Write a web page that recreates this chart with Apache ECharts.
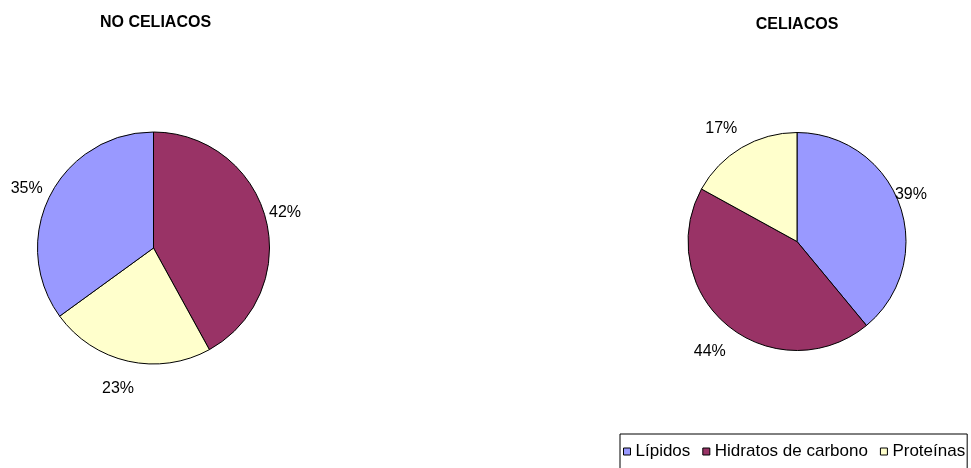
<!DOCTYPE html>
<html>
<head>
<meta charset="utf-8">
<script src="https://cdn.jsdelivr.net/npm/echarts@6/dist/echarts.min.js"></script>
<style>
  html, body { margin: 0; padding: 0; background: #fff; }
  #chart { width: 971px; height: 468px; }
</style>
</head>
<body>
<div id="chart"></div>
<script>
// Macronutrient share of the diet, non-coeliac vs coeliac group
const categories = ['Lípidos', 'Hidratos de carbono', 'Proteínas'];
const noCeliacosValues = [35, 42, 23];
const celiacosValues = [39, 44, 17];
const titles = ['NO CELIACOS', 'CELIACOS'];

// Slice order, clockwise from 12 o'clock
const noCeliacosOrder = [1, 2, 0];
const celiacosOrder = [0, 1, 2];

const colors = ['#9999FF', '#993366', '#FFFFCC'];
const FONT = '"Liberation Sans", Arial, sans-serif';

// Outside label placement per category (labelLine length / length2)
const noCeliacosLabelPos = [[14, -5], [25, -21], [28, -12]];
const celiacosLabelPos = [[28, -31], [34, -20], [22, -7]];

function buildData(values, order, labelPos) {
  return order.map(i => ({
    name: categories[i],
    value: values[i],
    itemStyle: { color: colors[i] },
    labelLine: { show: false, length: labelPos[i][0], length2: labelPos[i][1] }
  }));
}

function pieSeries(values, order, labelPos, center, radius) {
  return {
    type: 'pie',
    center: center,
    radius: radius,
    startAngle: 90,
    clockwise: true,
    avoidLabelOverlap: false,
    label: {
      show: true,
      position: 'outside',
      formatter: '{c}%',
      color: '#000',
      fontFamily: FONT,
      fontSize: 16,
      distanceToLabelLine: 0,
      overflow: 'none'
    },
    labelLine: { show: false },
    emphasis: { disabled: true },
    itemStyle: { borderColor: '#000', borderWidth: 1 },
    data: buildData(values, order, labelPos)
  };
}

const chart = echarts.init(document.getElementById('chart'), null, { renderer: 'canvas' });
chart.setOption({
  animation: false,
  backgroundColor: '#fff',
  graphic: [
    { type: 'text', x: 155.5, y: 23, style: { text: titles[0], font: 'bold 16px ' + FONT, fill: '#000', align: 'center', verticalAlign: 'middle' } },
    { type: 'text', x: 797, y: 24.5, style: { text: titles[1], font: 'bold 16px ' + FONT, fill: '#000', align: 'center', verticalAlign: 'middle' } }
  ],
  legend: {
    data: categories,
    left: 620,
    top: 434,
    width: 400,
    orient: 'horizontal',
    icon: 'rect',
    itemWidth: 7,
    itemHeight: 7,
    itemGap: 12,
    padding: [9, 2, 24, 3],
    borderColor: '#000',
    borderWidth: 1,
    borderRadius: 0,
    selectedMode: false,
    itemStyle: { borderColor: '#000', borderWidth: 1 },
    textStyle: { color: '#000', fontFamily: FONT, fontSize: 17 }
  },
  series: [
    pieSeries(noCeliacosValues, noCeliacosOrder, noCeliacosLabelPos, [153.5, 248], 116),
    pieSeries(celiacosValues, celiacosOrder, celiacosLabelPos, [797, 241.5], 109)
  ]
});
</script>
</body>
</html>
